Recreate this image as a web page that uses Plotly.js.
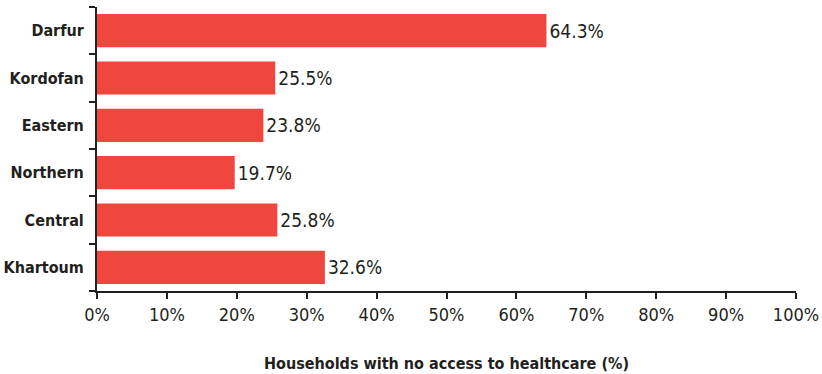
<!DOCTYPE html>
<html><head><meta charset="utf-8">
<script src="https://cdn.plot.ly/plotly-3.0.1.min.js"></script>
<style>html,body{margin:0;padding:0;background:#fff}</style>
</head><body><div id="chart" style="width:822px;height:374px"></div>
<script>
const regions = ["Darfur","Kordofan","Eastern","Northern","Central","Khartoum"];
const noAccess = [64.3, 25.5, 23.8, 19.7, 25.8, 32.6];
const xTickVals = [0,10,20,30,40,50,60,70,80,90,100];
const xTickText = ["0%","10%","20%","30%","40%","50%","60%","70%","80%","90%","100%"];
const FONT = '"Liberation Sans Narrow", "DejaVu Sans Condensed", "Roboto", sans-serif';
const trace = {
  type: 'bar', orientation: 'h',
  y: regions.slice().reverse(), x: noAccess.slice().reverse(),
  marker: {color: '#EF463D'},
  text: noAccess.slice().reverse().map(v => v.toFixed(1) + '%'),
  textposition: 'outside', cliponaxis: false,
  textfont: {family: FONT, size: 19, color: '#231F20'},
  hoverinfo: 'none'
};
const layout = {
  width: 822, height: 374,
  margin: {l: 97, r: 26, t: 7, b: 83},
  paper_bgcolor: '#fff', plot_bgcolor: '#fff',
  bargap: 0.3, showlegend: false,
  font: {family: FONT, color: '#231F20'},
  xaxis: {
    range: [0, 100], tickvals: xTickVals, ticktext: xTickText,
    showgrid: false, zeroline: false, showline: true, linecolor: '#231F20', linewidth: 2,
    ticks: 'outside', ticklen: 6, tickwidth: 2, tickcolor: '#231F20',
    tickfont: {family: FONT, size: 18, color: '#231F20'},
    title: {text: '<b>Households with no access to healthcare (%)</b>', font: {family: FONT, size: 16, color: '#231F20'}, standoff: 34}
  },
  yaxis: {
    type: 'category', tickson: 'boundaries',
    showgrid: false, zeroline: false, showline: true, linecolor: '#231F20', linewidth: 2,
    ticks: 'outside', ticklen: 6, tickwidth: 2, tickcolor: '#231F20',
    tickfont: {family: FONT, size: 16, color: '#231F20', weight: 'bold'},
    ticklabelstandoff: 8
  }
};
Plotly.newPlot('chart', [trace], layout, {displayModeBar: false, staticPlot: true});
</script></body></html>
